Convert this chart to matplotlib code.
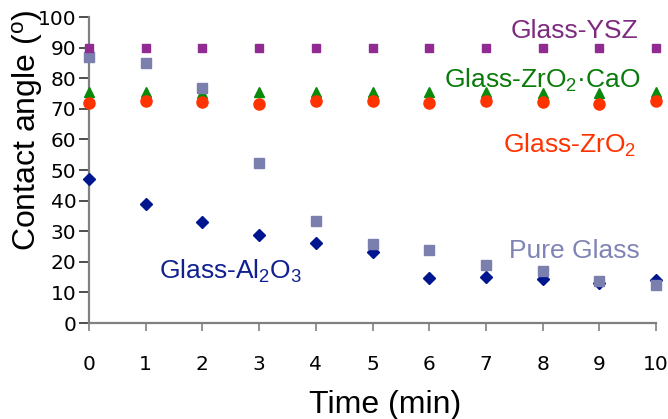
import matplotlib
matplotlib.use("Agg")
import matplotlib.pyplot as plt

plt.rcParams.update({
    'font.family': 'DejaVu Sans',
    'mathtext.fontset': 'custom',
    'mathtext.rm': 'Liberation Sans',
    'mathtext.it': 'Liberation Sans:italic',
    'mathtext.bf': 'Liberation Sans:bold',
})

# Contact angle vs time for each glass composition
time_min = [0, 1, 2, 3, 4, 5, 6, 7, 8, 9, 10]
glass_ysz = [90, 90, 90, 90, 90, 90, 90, 90, 90, 90, 90]
glass_zro2_cao = [75.5, 75.5, 75.2, 75.5, 75.5, 75.5, 75.5, 75.5, 75.2, 75.2, 75.5]
glass_zro2 = [72.0, 72.7, 72.1, 71.6, 72.7, 72.7, 72.0, 72.5, 72.2, 71.6, 72.7]
pure_glass = [86.8, 84.9, 76.9, 52.4, 33.3, 25.7, 23.8, 19.0, 17.0, 13.9, 12.4]
glass_al2o3 = [47.1, 38.8, 33.1, 28.8, 26.3, 23.3, 14.8, 15.1, 14.3, 13.2, 14.0]

LABEL_FONT = 'Liberation Sans'

fig = plt.figure(figsize=(6.68, 4.19), dpi=100)
ax = fig.add_axes([0.1332, 0.229, 0.849, 0.7304])

ax.plot(time_min, glass_al2o3, 'D', color='#00168E', markersize=6, clip_on=False, zorder=3)
ax.plot(time_min, pure_glass, 's', color='#7B7FAE', markersize=7, clip_on=False, zorder=4)
ax.plot(time_min, glass_zro2_cao, '^', color='#0A8A0A', markersize=7.5, clip_on=False, zorder=3)
ax.plot(time_min, glass_zro2, 'o', color='#FF3300', markersize=8, clip_on=False, zorder=4)
ax.plot(time_min, glass_ysz, 's', color='#912A91', markersize=6, clip_on=False, zorder=4)

ax.set_xlim(0, 10)
ax.set_ylim(0, 100)
ax.set_xticks(range(0, 11))
ax.set_yticks(range(0, 101, 10))

for side in ['top', 'right']:
    ax.spines[side].set_visible(False)
for side in ['left', 'bottom']:
    ax.spines[side].set_color('#808080')
    ax.spines[side].set_linewidth(1.6)

ax.tick_params(axis='x', direction='out', length=6, width=1.2, color='#808080',
               labelsize=14.5, pad=17)
ax.tick_params(axis='y', direction='out', length=7, width=1.2, color='#303030',
               labelsize=14.5, pad=2)

# axis titles
fig.text(385 / 668, 6 / 419, "Time (min)", fontsize=23, family=LABEL_FONT,
         ha='center', va='baseline')
fig.text(28 / 668, 1 - 130 / 419, r"Contact angle ($^{\mathrm{o}}$)", fontsize=23,
         family=LABEL_FONT, rotation=90, ha='center', va='center')

# series labels
ann = dict(fontsize=19, family=LABEL_FONT, va='baseline')
ax.text(9.68, 93.3, "Glass-YSZ", color='#7E2A7E', ha='right', **ann)
ax.text(9.72, 77.0, r"Glass-ZrO$_\mathrm{2}$·CaO", color='#0A7A0A', ha='right', **ann)
ax.text(9.65, 55.7, r"Glass-ZrO$_\mathrm{2}$", color='#FF3300', ha='right', **ann)
ax.text(1.235, 14.4, r"Glass-Al$_\mathrm{2}$O$_\mathrm{3}$", color='#102090', ha='left', **ann)
ax.text(9.72, 21.1, "Pure Glass", color='#7F84B4', ha='right', **ann)

fig.savefig("out.png", dpi=100)
